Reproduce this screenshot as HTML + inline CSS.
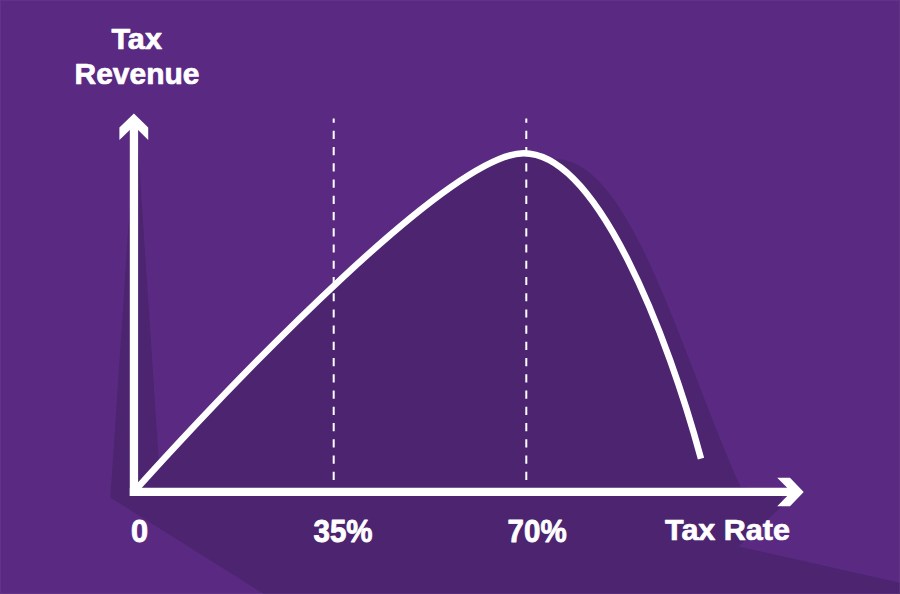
<!DOCTYPE html>
<html lang="en">
<head>
<meta charset="utf-8">
<title>Laffer Curve</title>
<style>
html,body{margin:0;padding:0;background:#5a2a82;}
body{width:900px;height:594px;overflow:hidden;}
svg{display:block;}
text{font-family:"Liberation Sans",Arial,sans-serif;font-weight:700;fill:#fff;stroke:#fff;stroke-width:0.7px;stroke-linejoin:round;}
text.n{stroke-width:0.85px;}
</style>
</head>
<body>
<svg width="900" height="594" viewBox="0 0 900 594">
<rect width="900" height="594" fill="#5a2a82"/>
<path d="M134,143L110.4,497.6 L264,594 L900,594 L900,582.7 L738.5,546.5 L782.2,506.2 L782.2,491 L740.6,487C679.3,350.8 630.4,155.2 552.8,159C542.2,156.2 532.9,153.3 523.6,153.3C457.2,153.3 271.8,341.6 160,463.1L159,463 L138.1,148Z" fill="#4c2470"/>
<g stroke="#fff" stroke-width="2" stroke-dasharray="8.2 8.04" stroke-dashoffset="4" fill="none">
<line x1="333.7" y1="118.5" x2="333.7" y2="481"/>
<line x1="526.3" y1="118.5" x2="526.3" y2="481"/>
</g>
<path d="M134,491.6C240.5,373.9 451.8,153.3 523.6,153.3C598.3,153.3 668.1,337.1 701,458.6" fill="none" stroke="#fff" stroke-width="6.5"/>
<path d="M133.9,113.6 L148.2,127.4 L148.2,140 L138.1,129.9 L138.1,495.95 L129.8,495.95 L129.8,129.9 L119.4,140 L119.4,127.4 Z" fill="#fff"/>
<path d="M803.7,491.9 L790,506.3 L777.2,506.3 L787.2,495.95 L129.8,495.95 L129.8,487.75 L787.2,487.75 L777.2,477.7 L790,477.7 Z" fill="#fff"/>
<text x="136.7" y="49.2" font-size="28.8" text-anchor="middle" textLength="50.5" lengthAdjust="spacingAndGlyphs">Tax</text>
<text x="137" y="84.2" font-size="28.8" text-anchor="middle" textLength="124.8" lengthAdjust="spacingAndGlyphs">Revenue</text>
<text x="139.5" y="541.6" font-size="31" class="n" text-anchor="middle" textLength="17.1" lengthAdjust="spacingAndGlyphs">0</text>
<text x="343" y="541.6" font-size="31" class="n" text-anchor="middle" textLength="59" lengthAdjust="spacingAndGlyphs">35%</text>
<text x="537.1" y="541.6" font-size="31" class="n" text-anchor="middle" textLength="59" lengthAdjust="spacingAndGlyphs">70%</text>
<text x="727.5" y="540.4" font-size="29.1" text-anchor="middle" textLength="125" lengthAdjust="spacingAndGlyphs">Tax Rate</text>
<rect x="0.5" y="0.5" width="899" height="593" fill="none" stroke="#fff" stroke-opacity="0.05" stroke-width="1"/>
</svg>
</body>
</html>
